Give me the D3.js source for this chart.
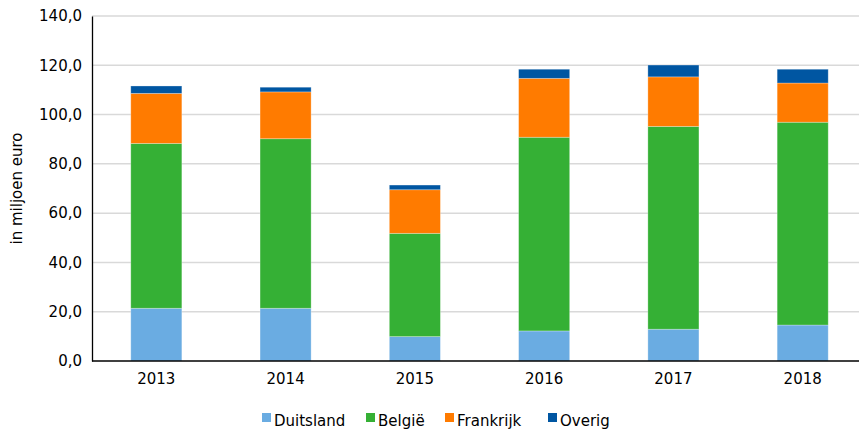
<!DOCTYPE html>
<html>
<head>
<meta charset="utf-8">
<script src="https://cdn.jsdelivr.net/npm/d3@7"></script>
<style>
  body { margin: 0; background: #fff; }
  svg text { font-family: "DejaVu Sans", Verdana, sans-serif; fill: #000; }
</style>
</head>
<body>
<svg width="859" height="435"></svg>
<script>
// waarden in miljoen euro
var years = ["2013", "2014", "2015", "2016", "2017", "2018"];
var duitsland = [21.4, 21.4, 9.9, 12.2, 12.9, 14.6];
var belgie    = [66.9, 68.8, 41.9, 78.6, 82.3, 82.3];
var frankrijk = [20.3, 19.0, 17.7, 23.9, 20.1, 15.9];
var overig    = [3.0, 1.9, 1.9, 3.7, 4.8, 5.6];
var seriesNames = ["Duitsland", "België", "Frankrijk", "Overig"];
var colors = ["#6aace2", "#35b035", "#ff7b00", "#0056a2"];
var yTicks = [0, 20, 40, 60, 80, 100, 120, 140];

var rows = years.map(function(y, i) {
  return {year: y, "Duitsland": duitsland[i], "België": belgie[i],
          "Frankrijk": frankrijk[i], "Overig": overig[i]};
});
var stacked = d3.stack().keys(seriesNames)(rows);

var svg = d3.select("svg");
var plotLeft = 92, plotRight = 859, plotTop = 16, plotBottom = 361;

// the category band runs a little past the right edge, as in the original
var x = d3.scaleBand().domain(years).range([plotLeft, plotLeft + 775]).paddingInner(0.605).paddingOuter(0.3);
var y = d3.scaleLinear().domain([0, 140]).range([plotBottom, plotTop]);

// gridlines
svg.append("g").selectAll("line")
  .data(yTicks.slice(1))
  .enter().append("line")
  .attr("x1", plotLeft).attr("x2", plotRight)
  .attr("y1", function(d){ return y(d); })
  .attr("y2", function(d){ return y(d); })
  .attr("stroke", "#d9d9d9")
  .attr("stroke-width", 1.5);

// bars
svg.append("g").selectAll("g")
  .data(stacked)
  .enter().append("g")
  .attr("fill", function(d, i){ return colors[i]; })
  .selectAll("rect")
  .data(function(d){ return d; })
  .enter().append("rect")
  .attr("x", function(d){ return x(d.data.year); })
  .attr("width", x.bandwidth())
  .attr("y", function(d){ return y(d[1]); })
  .attr("height", function(d){ return y(d[0]) - y(d[1]); })
  .attr("stroke", "rgba(255,255,255,0.35)")
  .attr("stroke-width", 0.8);

// y axis
var yAxis = d3.axisLeft(y).tickValues(yTicks).tickSize(0).tickPadding(10)
  .tickFormat(function(d){ return d3.format(".1f")(d).replace(".", ","); });
var gy = svg.append("g").attr("transform", "translate(" + plotLeft + ",0)").call(yAxis);
gy.select(".domain").attr("stroke", "#000").attr("stroke-width", 1.3);
gy.selectAll("text").style("font-size", "15px");

// x axis
var xAxis = d3.axisBottom(x).tickSize(0).tickPadding(12);
var gx = svg.append("g").attr("transform", "translate(0," + plotBottom + ")").call(xAxis);
gx.select(".domain").remove();
gx.append("line")
  .attr("x1", plotLeft).attr("x2", plotRight)
  .attr("stroke", "#000").attr("stroke-width", 1.3);
gx.selectAll("text").style("font-size", "15px");

// y label
svg.append("text")
  .attr("transform", "translate(22," + ((plotTop + plotBottom) / 2) + ") rotate(-90)")
  .attr("text-anchor", "middle")
  .style("font-size", "15px")
  .text("in miljoen euro");

// legend
var legendX = [262, 366, 445, 548];
var legend = svg.append("g").selectAll("g")
  .data(seriesNames)
  .enter().append("g")
  .attr("transform", function(d, i){ return "translate(" + legendX[i] + ",421)"; });
legend.append("rect")
  .attr("x", 0).attr("y", -8).attr("width", 9).attr("height", 9)
  .attr("fill", function(d, i){ return colors[i]; });
legend.append("text")
  .attr("x", 12).attr("y", 0).attr("dy", "0.35em")
  .style("font-size", "15px")
  .text(function(d){ return d; });
</script>
</body>
</html>
